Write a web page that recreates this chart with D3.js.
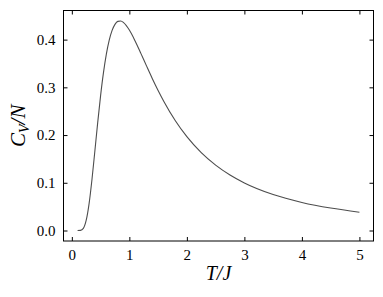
<!DOCTYPE html>
<html><head><meta charset="utf-8">
<script src="https://cdn.jsdelivr.net/npm/d3@7"></script>
<style>body{margin:0;background:#fff}svg{display:block}svg text{font-family:"Times New Roman","Liberation Serif",serif !important}</style>
</head><body><div id="c"></div>
<script>
const temps = [0.1,0.15,0.2,0.25,0.3,0.35,0.4,0.45,0.5,0.55,0.6,0.65,0.7,0.75,0.8,0.85,0.9,1.0,1.1,1.2,1.3,1.4,1.5,1.6,1.8,2.0,2.25,2.5,2.75,3.0,3.5,4.0,4.5,5.0];
const heat = [0.0000,0.0003,0.0045,0.0215,0.0564,0.1070,0.1662,0.2266,0.2826,0.3307,0.3695,0.3989,0.4193,0.4320,0.4382,0.4390,0.4356,0.4200,0.3972,0.3712,0.3444,0.3182,0.2935,0.2705,0.2300,0.1966,0.1631,0.1369,0.1162,0.0996,0.0753,0.0588,0.0470,0.0384];
const xTicks = [0,1,2,3,4,5];
const yTicks = [0.0,0.1,0.2,0.3,0.4];

const W=383,H=297, m={l:63.5,r:9.5,t:10.5,b:56};
const svg=d3.select("#c").append("svg").attr("width",W).attr("height",H);
const x=d3.scaleLinear().domain([-0.145,5.245]).range([m.l,W-m.r]);
const y=d3.scaleLinear().domain([-0.022,0.461]).range([H-m.b,m.t]);
const tk=4;
const fmt=d3.format(".1f");
const gx=svg.append("g").attr("transform",`translate(0,${H-m.b})`)
  .call(d3.axisBottom(x).tickValues(xTicks).tickSizeInner(-tk).tickSizeOuter(0).tickPadding(8).tickFormat(d3.format("d")));
const gxt=svg.append("g").attr("transform",`translate(0,${m.t})`)
  .call(d3.axisTop(x).tickValues(xTicks).tickSizeInner(-tk).tickSizeOuter(0).tickFormat(""));
const gy=svg.append("g").attr("transform",`translate(${m.l},0)`)
  .call(d3.axisLeft(y).tickValues(yTicks).tickSizeInner(-tk).tickSizeOuter(0).tickPadding(8).tickFormat(fmt));
const gyr=svg.append("g").attr("transform",`translate(${W-m.r},0)`)
  .call(d3.axisRight(y).tickValues(yTicks).tickSizeInner(-tk).tickSizeOuter(0).tickFormat(""));
[gx,gxt,gy,gyr].forEach(g=>{g.attr("font-family",null).attr("font-size",null);g.select(".domain").remove();g.selectAll("line").attr("stroke","#000").attr("stroke-width",1);g.selectAll("text").style("font-size","15px").attr("fill","#000");});
svg.append("rect").attr("x",m.l).attr("y",m.t).attr("width",W-m.l-m.r).attr("height",H-m.t-m.b).attr("fill","none").attr("stroke","#000").attr("stroke-width",1);
const line=d3.line().x((d,i)=>x(temps[i])).y(d=>y(d)).curve(d3.curveMonotoneX);
svg.append("path").datum(heat).attr("d",line).attr("fill","none").attr("stroke","#4d4d4d").attr("stroke-width",1.1);
svg.append("text").attr("x",(m.l+W-m.r)/2).attr("y",280).attr("text-anchor","middle").style("font-size","20px").attr("font-style","italic").text("T/J");
const yl=svg.append("text").attr("transform",`translate(25,${(m.t+H-m.b)/2}) rotate(-90)`).attr("text-anchor","middle").style("font-size","21px").attr("font-style","italic");
yl.append("tspan").text("C");
yl.append("tspan").style("font-size","14px").attr("dy",4).text("V");
yl.append("tspan").attr("dy",-4).text("/N");
</script></body></html>
